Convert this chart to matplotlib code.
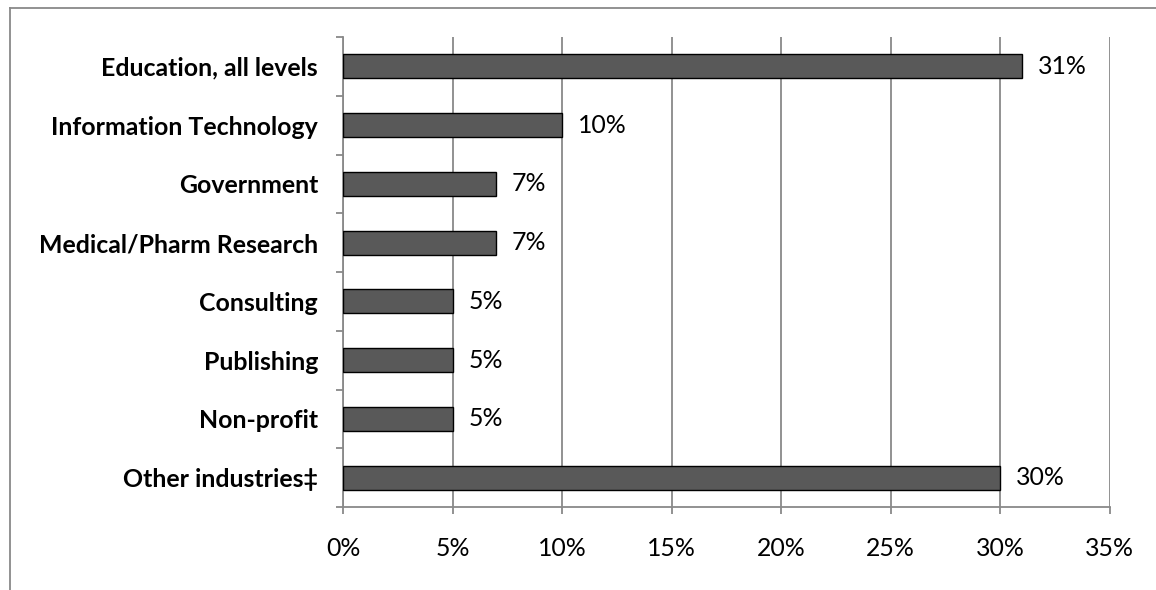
import matplotlib
matplotlib.use("Agg")
import matplotlib.pyplot as plt
from matplotlib.lines import Line2D
from matplotlib.ticker import FuncFormatter, MultipleLocator, FixedLocator

# Data (top to bottom as shown)
industries = [
    "Education, all levels",
    "Information Technology",
    "Government",
    "Medical/Pharm Research",
    "Consulting",
    "Publishing",
    "Non-profit",
    "Other industries\u2021",
]
shares = [31, 10, 7, 7, 5, 5, 5, 30]

W, H = 1156, 590
fig = plt.figure(figsize=(W / 100, H / 100), dpi=100)
plt.rcParams['font.family'] = ['Lato', 'DejaVu Sans']

left, right, top, bottom = 343, 1109.5, 37, 507
ax = fig.add_axes([left / W, (H - bottom) / H, (right - left) / W, (bottom - top) / H])

grey = "#898989"
fs = 17.9
n = len(industries)
ypos = list(range(n))[::-1]
ax.barh(ypos, shares, height=0.41, color="#595959", edgecolor="black", linewidth=1.0, zorder=3)

for y, v in zip(ypos, shares):
    ax.text(v + 0.72, y, f"{v}%", va="center", ha="left", fontsize=fs, color="black")

ax.set_xlim(0, 35)
ax.set_ylim(-0.5, n - 0.5)
ax.xaxis.set_major_locator(MultipleLocator(5))
ax.xaxis.set_major_formatter(FuncFormatter(lambda v, p: f"{v:.0f}%"))
ax.set_yticks(ypos)
ax.set_yticklabels(industries, fontweight="bold", fontsize=fs)
ax.yaxis.set_minor_locator(FixedLocator([i - 0.5 for i in range(n + 1)]))

ax.grid(axis="x", color=grey, linewidth=1.3, zorder=0)
for s in ["top", "right"]:
    ax.spines[s].set_visible(False)
for s in ["left", "bottom"]:
    ax.spines[s].set_color(grey)
    ax.spines[s].set_linewidth(1.3)

ax.tick_params(axis="y", which="major", length=0, pad=18)
ax.tick_params(axis="y", which="minor", length=5, width=1.3, color=grey, direction="out")
ax.tick_params(axis="x", which="major", length=5, width=1.3, color=grey, direction="out",
               pad=16.5, labelsize=fs)

# outer chart frame (top and left edges visible)
fig.add_artist(Line2D([10 / W, 1], [1 - 8 / H, 1 - 8 / H], color=grey, linewidth=1.3,
                      transform=fig.transFigure))
fig.add_artist(Line2D([10 / W, 10 / W], [0, 1 - 8 / H], color=grey, linewidth=1.3,
                      transform=fig.transFigure))

fig.savefig("out.png", dpi=100)
